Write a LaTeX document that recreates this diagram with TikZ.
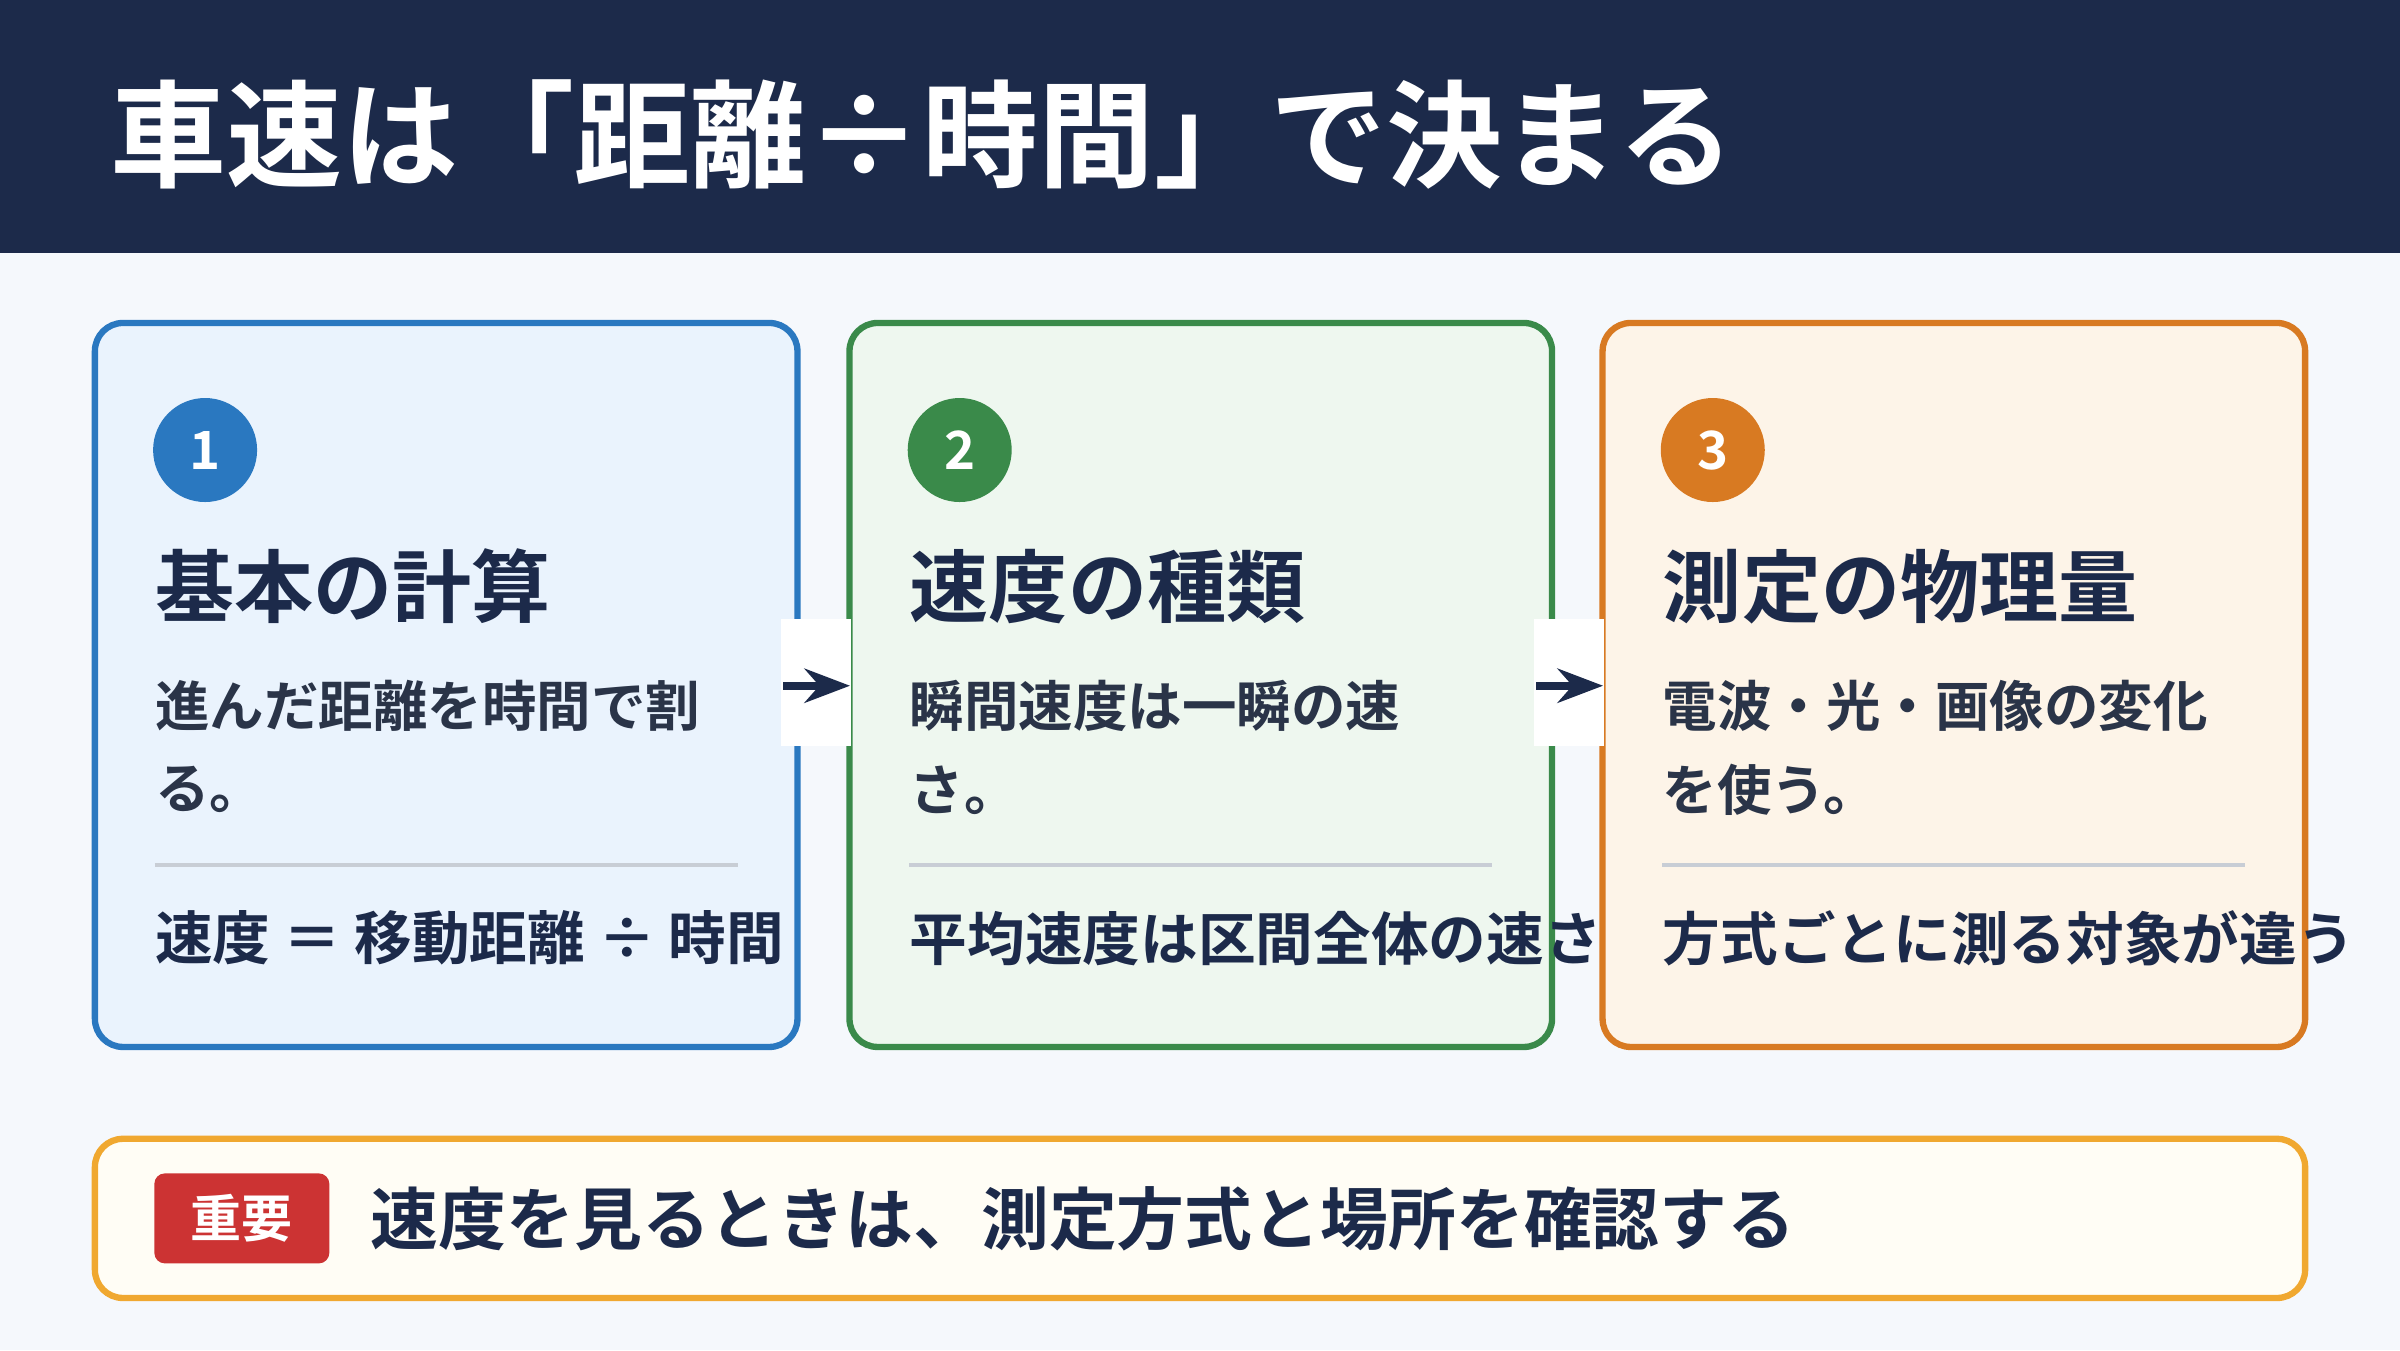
\documentclass[tikz,border=0pt]{standalone}
\usepackage{fontspec}
\setmainfont{Noto Sans CJK JP}[BoldFont={Noto Sans CJK JP Bold}]
\usetikzlibrary{positioning,arrows.meta,calc}

\definecolor{navy}{HTML}{1C2A4A}
\definecolor{bgpage}{HTML}{F5F8FC}
\definecolor{cblue}{HTML}{2A78C0}
\definecolor{fblue}{HTML}{EAF3FD}
\definecolor{cgreen}{HTML}{3A8A4A}
\definecolor{fgreen}{HTML}{EEF7EF}
\definecolor{corange}{HTML}{D87A22}
\definecolor{forange}{HTML}{FDF4E8}
\definecolor{cgold}{HTML}{F0A830}
\definecolor{fgold}{HTML}{FFFDF5}
\definecolor{cred}{HTML}{CC3333}
\definecolor{rule}{HTML}{C8CDD5}
\definecolor{bodytxt}{HTML}{2A3448}

\begin{document}
\begin{tikzpicture}[x=0.01531cm,y=-0.01531cm,>=Stealth]
	\tikzset{
		card/.style = {line width=1.8pt, rounded corners=8pt},
		badge/.style = {circle, minimum size=1.04cm, inner sep=0pt, text=white, font=\fontsize{15}{15}\selectfont\bfseries},
		head/.style = {anchor=west, inner sep=0pt, text=navy, font=\fontsize{22.5}{22.5}\selectfont\bfseries},
		body/.style = {anchor=west, inner sep=0pt, text=bodytxt, font=\fontsize{15.5}{15.5}\selectfont\bfseries},
		note/.style = {anchor=west, inner sep=0pt, text=navy, font=\fontsize{16.4}{16.4}\selectfont\bfseries},
		gap/.style = {fill=white, minimum width=0.7cm, minimum height=1.27cm, inner sep=0pt}
	}
	\useasboundingbox (0,0) rectangle (1568,882);
	\fill[bgpage] (0,0) rectangle (1568,882);
	\fill[navy] (0,0) rectangle (1568,165);
	\node[anchor=west, inner sep=0pt, text=white, font=\fontsize{33}{33}\selectfont\bfseries] (title) at (72,88) {車速は「距離÷時間」で決まる};

	% cards
	\foreach \x/\c/\f/\n/\h/\la/\lb/\lc [count=\i] in {
		62/cblue/fblue/1/基本の計算/進んだ距離を時間で割/る。/速度\ ＝\ 移動距離\ ÷\ 時間,
		555/cgreen/fgreen/2/速度の種類/瞬間速度は一瞬の速/さ。/平均速度は区間全体の速さ,
		1047/corange/forange/3/測定の物理量/電波・光・画像の変化/を使う。/方式ごとに測る対象が違う}{
		\draw[card, draw=\c, fill=\f] (\x,211) rectangle ++(459,473);
		\node[badge, fill=\c] (num\i) at (\x+72,294) {\n};
		\node[head] (head\i) at (\x+39,383) {\h};
		\node[body] (bodya\i) at (\x+39,461) {\la};
		\node[body] (bodyb\i) at (\x+39,516) {\lb};
		\draw[rule, line width=1pt] (\x+39,565) -- ++(381,0);
		\node[note] (note\i) at (\x+39,613) {\lc};
	}

	% arrows between cards
	\foreach \x [count=\i] in {533,1025}{
		\node[gap] (gap\i) at (\x,446) {};
		\draw[->, navy, line width=2.2pt] ($(gap\i.west)+(2,2)$) -- ($(gap\i.east)+(-1,2)$);
	}

	% key point banner
	\draw[card, draw=cgold, fill=fgold] (62,744) rectangle (1506,848);
	\node[fill=cred, rounded corners=3pt, minimum width=1.75cm, minimum height=0.9cm, inner sep=0pt, text=white, font=\fontsize{14.5}{14.5}\selectfont\bfseries] (key) at (158,796) {重要};
	\node[anchor=west, inner sep=0pt, text=navy, font=\fontsize{19.3}{19.3}\selectfont\bfseries, right=0.4cm of key] (keytxt) {速度を見るときは、測定方式と場所を確認する};
\end{tikzpicture}
\end{document}
